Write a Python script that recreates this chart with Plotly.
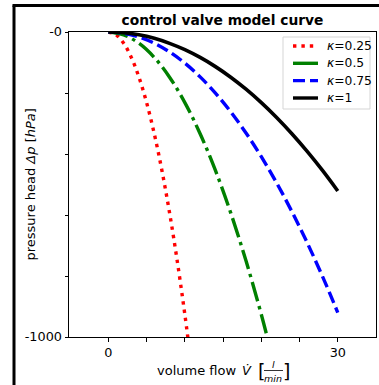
import plotly.graph_objects as go

# ---------------- data ----------------
flow_k100 = [0, 2, 4, 6, 8, 10, 12, 14, 16, 18, 20, 22, 24, 26, 28, 30]
dp_k100 = [0, -2.3, -9.3, -20.8, -37.1, -57.9, -83.4, -113.5, -148.2, -187.6,
           -231.6, -280.2, -333.5, -391.4, -453.9, -521.1]

flow_k075 = [0, 2, 4, 6, 8, 10, 12, 14, 16, 18, 20, 22, 24, 26, 28, 30]
dp_k075 = [0, -4.1, -16.4, -36.8, -65.4, -102.2, -147.2, -200.3, -261.6, -331.1,
           -408.8, -494.6, -588.7, -690.9, -801.2, -919.8]

flow_k050 = [0, 2, 4, 6, 8, 10, 12, 14, 16, 18, 20, 22]
dp_k050 = [0, -9.3, -37.1, -83.4, -148.2, -231.6, -333.5, -453.9, -592.9,
           -750.4, -926.4, -1121.0]

flow_k025 = [0, 1, 2, 3, 4, 5, 6, 7, 8, 9, 10, 11]
dp_k025 = [0, -9.3, -37.0, -83.3, -148.2, -231.5, -333.4, -453.7, -592.6,
           -750.1, -926.0, -1120.5]

series_names = ["κ=0.25", "κ=0.5", "κ=0.75", "κ=1"]

x_tick_vals = [0, 5, 10, 15, 20, 25, 30]
x_tick_text = ["0", "", "", "", "", "", "30"]
y_tick_vals = [-1000, -800, -600, -400, -200, 0]
y_tick_text = ["-1000", "", "", "", "", "-0"]

# ---------------- layout helpers ----------------
W, H = 379, 385
L, R, T, B = 69, 376, 32, 337  # plot area in pixels


def px(xp):
    return (xp - L) / (R - L)


def py(yp):
    return (B - yp) / (B - T)


FONT = "DejaVu Sans"

fig = go.Figure()

styles = [
    dict(color="red", width=3.4, dash="3.4px,5px", legend_dash="3.4px,5px"),
    dict(color="green", width=3.4, dash="20px,5px,3.4px,5px", legend_dash="solid"),
    dict(color="blue", width=3.4, dash="12px,5px", legend_dash="12px,5px"),
    dict(color="black", width=3.6, dash="solid", legend_dash="solid"),
]
datasets = [(flow_k025, dp_k025), (flow_k050, dp_k050),
            (flow_k075, dp_k075), (flow_k100, dp_k100)]

for (xs, ys), name, st in zip(datasets, series_names, styles):
    fig.add_trace(go.Scatter(
        x=xs, y=ys, mode="lines", name=name, showlegend=False,
        line=dict(color=st["color"], width=st["width"], dash=st["dash"], shape="spline"),
    ))

axis_common = dict(
    showline=True, linecolor="black", linewidth=1, mirror=True,
    ticks="outside", ticklen=3.5, tickwidth=1, tickcolor="black",
    showgrid=False, zeroline=False,
    tickfont=dict(family=FONT, size=12.8, color="black"),
)

fig.update_layout(
    width=W, height=H,
    margin=dict(l=L, r=W - R, t=T, b=H - B, pad=0),
    paper_bgcolor="white", plot_bgcolor="white",
    font=dict(family=FONT, size=12, color="black"),
    title=dict(text="<b>control valve model curve</b>", x=0.5, xref="paper",
               xanchor="center", y=1 - 20 / H, yref="container", yanchor="middle",
               font=dict(family=FONT, size=13.8, color="black")),
    xaxis=dict(range=[-5.15, 35.0], tickvals=x_tick_vals, ticktext=x_tick_text, **axis_common),
    yaxis=dict(range=[-1000, 0], tickvals=y_tick_vals, ticktext=y_tick_text, **axis_common),
    showlegend=False,
)

ann = []
shapes = []

# ---- legend (drawn manually to match the reference box) ----
leg_box = dict(x0=283, x1=370, y0=37, y1=109)
shapes.append(dict(type="rect", xref="paper", yref="paper",
                   x0=px(leg_box["x0"]), x1=px(leg_box["x1"]),
                   y0=py(leg_box["y1"]), y1=py(leg_box["y0"]),
                   line=dict(color="#d5d5d5", width=1), fillcolor="rgba(255,255,255,0.85)",
                   layer="above"))
row_y = [46, 63.3, 80.6, 98]
for name, st, ry in zip(series_names, styles, row_y):
    shapes.append(dict(type="line", xref="paper", yref="paper",
                       x0=px(293), x1=px(318), y0=py(ry), y1=py(ry),
                       line=dict(color=st["color"], width=3.4, dash=st["legend_dash"]),
                       layer="above"))
    ann.append(dict(text="<i>κ</i>" + name[1:], x=px(325), y=py(ry), xref="paper", yref="paper",
                    showarrow=False, xanchor="left", yanchor="middle",
                    font=dict(family=FONT, size=12.3)))

# y-axis title
ann.append(dict(text="pressure head <i>Δp</i> [<i>hPa</i>]", x=px(30), y=py(184.5),
                xref="paper", yref="paper", textangle=-90, showarrow=False,
                xanchor="center", yanchor="middle", font=dict(family=FONT, size=13)))
# x-axis title (composed)
ann.append(dict(text="volume flow", x=px(238), y=py(370), xref="paper", yref="paper",
                showarrow=False, xanchor="right", yanchor="middle", font=dict(family=FONT, size=13)))
ann.append(dict(text="<i>V̇</i>", x=px(247), y=py(370), xref="paper", yref="paper",
                showarrow=False, xanchor="center", yanchor="middle", font=dict(family=FONT, size=13)))
ann.append(dict(text="[", x=px(261), y=py(371), xref="paper", yref="paper",
                showarrow=False, xanchor="center", yanchor="middle", font=dict(family=FONT, size=19)))
ann.append(dict(text="]", x=px(286.5), y=py(371), xref="paper", yref="paper",
                showarrow=False, xanchor="center", yanchor="middle", font=dict(family=FONT, size=19)))
ann.append(dict(text="<i>l</i>", x=px(273), y=py(364), xref="paper", yref="paper",
                showarrow=False, xanchor="center", yanchor="middle", font=dict(family=FONT, size=9.5)))
ann.append(dict(text="<i>min</i>", x=px(273), y=py(378), xref="paper", yref="paper",
                showarrow=False, xanchor="center", yanchor="middle", font=dict(family=FONT, size=9.5)))

# fraction bar
shapes.append(dict(type="line", xref="paper", yref="paper", x0=px(264), x1=px(283),
                   y0=py(370.5), y1=py(370.5), line=dict(color="black", width=0.8)))
# figure frame (left and top edges)
shapes.append(dict(type="line", xref="paper", yref="paper", x0=px(14), x1=px(14),
                   y0=py(400), y1=py(5.5), line=dict(color="black", width=3)))
shapes.append(dict(type="line", xref="paper", yref="paper", x0=px(12.5), x1=px(400),
                   y0=py(5.5), y1=py(5.5), line=dict(color="black", width=3)))

fig.update_layout(annotations=ann, shapes=shapes)

fig.write_html("out.html")
